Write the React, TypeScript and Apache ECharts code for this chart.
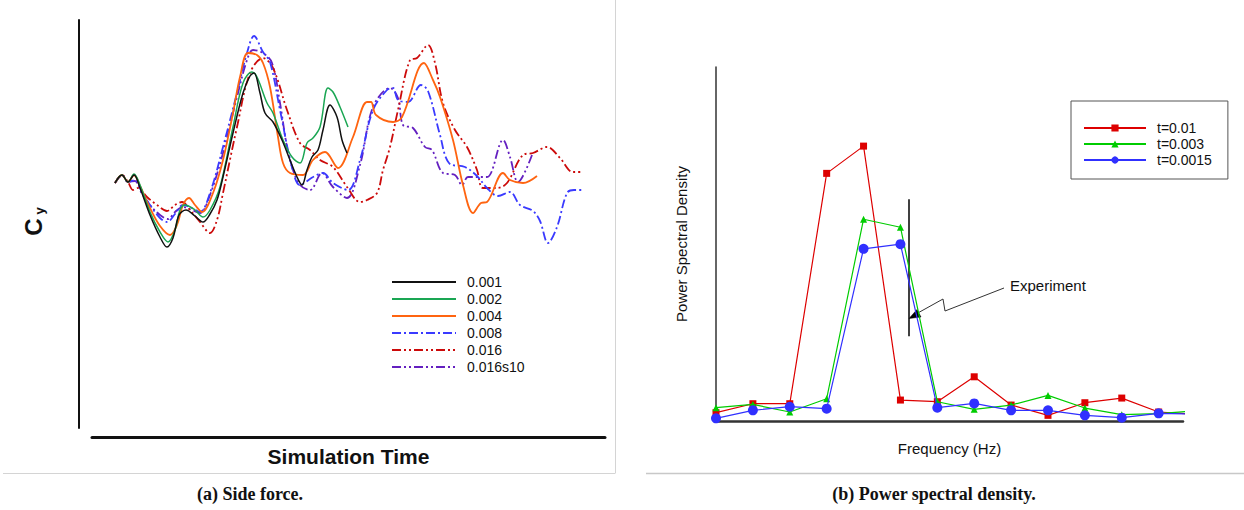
import React, { useEffect, useRef } from "react";
import * as echarts from "echarts";

// ---------- Panel (a): side force vs simulation time (arbitrary units) ----------
const cy001 = [[36,0],[43,8],[49,1],[55,8],[61,-5],[71,-32],[81,-54],[88,-64],[94,-55],[100,-32],[107,-27],[116,-33],[124,-39],[131,-31],[138,-17],[144,6],[154,50],[164,90],[171,107],[175,110],[181,90],[186,70],[194,61],[203,43],[211,23],[218,6],[223,-2],[228,13],[233,26],[239,33],[244,53],[251,78],[258,66],[263,43],[268,30]];
const cy002 = [[36,0],[43,8],[49,1],[55,9],[61,-2],[71,-29],[81,-49],[89,-59],[96,-47],[101,-27],[106,-22],[116,-27],[124,-34],[131,-27],[141,-4],[154,56],[164,100],[173,111],[178,106],[188,80],[194,70],[204,43],[213,26],[221,20],[228,40],[234,45],[241,56],[249,95],[254,91],[261,76],[269,56]];
const cy004 = [[36,0],[43,8],[49,1],[55,8],[61,-3],[71,-25],[81,-43],[91,-52],[98,-42],[104,-22],[110,-15],[116,-22],[123,-29],[134,-10],[144,23],[154,70],[161,106],[169,130],[178,128],[184,120],[191,96],[199,46],[204,20],[211,10],[224,8],[234,23],[246,31],[259,15],[274,46],[288,81],[292,81],[297,68],[314,61],[323,66],[345,120],[354,103],[361,86],[374,43],[384,-2],[394,-30],[402,-20],[408,-19],[424,10],[431,3],[444,0],[458,7]];
const cy008 = [[36,0],[43,8],[49,1],[56,3],[62,-7],[71,-22],[81,-35],[88,-39],[96,-31],[104,-22],[113,-25],[121,-29],[131,-10],[144,36],[158,90],[168,130],[175,147],[184,131],[191,121],[201,73],[213,16],[221,-2],[234,6],[244,10],[254,0],[269,-7],[281,23],[294,73],[308,93],[314,95],[319,83],[329,81],[342,98],[349,92],[361,48],[370,20],[386,16],[398,7],[408,-5],[419,-13],[431,-9],[441,-22],[454,-28],[461,-38],[469,-60],[478,-44],[488,-10],[495,-7],[503,-7]];
const cy016 = [[36,0],[43,8],[49,1],[54,-7],[59,-5],[68,-14],[78,-22],[88,-28],[96,-22],[103,-19],[111,-27],[121,-39],[131,-50],[138,-37],[144,-10],[158,56],[171,110],[184,125],[194,115],[208,73],[221,40],[231,33],[241,23],[254,16],[268,-4],[281,-19],[288,-17],[298,-10],[304,13],[311,36],[319,73],[331,123],[338,125],[349,138],[356,120],[364,80],[376,53],[388,36],[398,13],[404,-5],[418,-5],[428,0],[444,28],[454,30],[468,36],[481,25],[494,11],[503,11]];
const cy016s10 = [[36,0],[43,8],[49,1],[56,2],[62,-9],[71,-22],[81,-32],[89,-36],[96,-29],[104,-24],[113,-27],[121,-30],[131,-12],[144,30],[158,86],[168,123],[174,133],[184,130],[193,120],[201,80],[208,36],[214,13],[221,-2],[231,-7],[243,10],[254,-4],[268,-15],[281,18],[294,76],[311,95],[319,85],[324,58],[334,55],[346,36],[353,33],[364,10],[376,8],[383,-2],[389,6],[398,6],[408,6],[424,43],[431,26],[439,1],[453,28]];

const leftNames = ["0.001", "0.002", "0.004", "0.008", "0.016", "0.016s10"];

// ---------- Panel (b): power spectral density ----------
const freqIndex = [0, 1, 2, 3, 4, 5, 6, 7, 8, 9, 10, 11, 12, 13];
const psd0010 = [25, 52, 52, 745, 827, 63, 58, 133, 48, 17, 55, 69, 27, 20];
const psd0003 = [40, 50, 27, 67, 607, 583, 58, 35, 48, 77, 39, 19, 22, 31];
const psd00015 = [8, 32, 43, 37, 518, 532, 40, 53, 32, 32, 17, 10, 23, 21];
const rightNames = ["t=0.01", "t=0.003", "t=0.0015"];
const experimentFreq = 5.22;
const experimentRange = [255, 667];

const pair = (ys: number[]) => ys.map((v, i) => [freqIndex[i], v]);

const SANS = "'Liberation Sans', Arial, Helvetica, sans-serif";
const SERIF = "'Liberation Serif', 'DejaVu Serif', serif";

const hidden = { axisTick: { show: false }, axisLabel: { show: false }, splitLine: { show: false } };

export default function App() {
  const ref = useRef<HTMLDivElement>(null);
  useEffect(() => {
    const chart = echarts.init(ref.current!, null, { renderer: "svg" });
    const leftStyles = [
      { color: "#111111", width: 1.5, type: "solid" },
      { color: "#1aa653", width: 1.5, type: "solid" },
      { color: "#ff6410", width: 1.8, type: "solid" },
      { color: "#3a3aff", width: 1.8, type: [9, 3, 2, 3] },
      { color: "#cc0a0a", width: 1.8, type: [9, 3, 2, 3, 2, 3] },
      { color: "#6420c0", width: 1.8, type: [9, 3, 2, 3, 2, 3] },
    ];
    const leftData = [cy001, cy002, cy004, cy008, cy016, cy016s10];
    const leftSeries = leftData.map((d, i) => ({
      name: leftNames[i],
      type: "line",
      xAxisIndex: 0,
      yAxisIndex: 0,
      data: d,
      symbol: "none",
      showSymbol: false,
      smooth: 0.35,
      color: leftStyles[i].color,
      lineStyle: leftStyles[i],
      z: 6 - i,
    }));
    const rightSpecs = [
      { c: "#dd0000", s: "rect", sz: 7, d: psd0010 },
      { c: "#00cc00", s: "triangle", sz: 7, d: psd0003 },
      { c: "#3030ff", s: "circle", sz: 10, d: psd00015 },
    ];
    const rightSeries: any[] = rightSpecs.map((r, i) => ({
      name: rightNames[i],
      type: "line",
      xAxisIndex: 2,
      yAxisIndex: 2,
      data: pair(r.d),
      symbol: r.s,
      symbolSize: r.sz,
      showSymbol: true,
      clip: true,
      color: r.c,
      itemStyle: { color: r.c },
      lineStyle: { color: r.c, width: 1.2 },
      z: 5 + i,
    }));
    rightSeries[0].markLine = {
      silent: true,
      symbol: "none",
      label: { show: false },
      lineStyle: { color: "#000", width: 1.5, type: "solid" },
      data: [[{ coord: [experimentFreq, experimentRange[0]] }, { coord: [experimentFreq, experimentRange[1]] }]],
    };

    const option: any = {
      animation: false,
      backgroundColor: "#ffffff",
      grid: [
        { left: 79, top: 20, width: 526, height: 408 },
        { left: 92, top: 436, width: 513, height: 1 },
        { left: 716, top: 67, width: 467, height: 354 },
      ],
      xAxis: [
        { gridIndex: 0, type: "value", min: 0, max: 526, show: false },
        {
          gridIndex: 1, type: "value", min: 0, max: 1, ...hidden,
          axisLine: { show: true, onZero: false, lineStyle: { color: "#111", width: 3 } },
          name: "Simulation Time", nameLocation: "middle", nameGap: 9,
          nameTextStyle: { fontFamily: SANS, fontSize: 21, fontWeight: "bold", color: "#111", verticalAlign: "top" },
        },
        {
          gridIndex: 2, type: "value", min: 0, max: 12.66, ...hidden,
          axisLine: { show: true, onZero: false, lineStyle: { color: "#333", width: 2.5 } },
          name: "Frequency (Hz)", nameLocation: "middle", nameGap: 20,
          nameTextStyle: { fontFamily: SANS, fontSize: 15, color: "#111", verticalAlign: "top" },
        },
      ],
      yAxis: [
        {
          gridIndex: 0, type: "value", min: -245, max: 163, ...hidden,
          axisLine: { show: true, onZero: false, lineStyle: { color: "#111", width: 2 } },
        },
        { gridIndex: 1, type: "value", min: 0, max: 1, show: false },
        {
          gridIndex: 2, type: "value", min: 0, max: 1065, ...hidden,
          axisLine: { show: true, onZero: false, lineStyle: { color: "#333", width: 1.5 } },
          name: "Power Spectral Density", nameLocation: "middle", nameGap: 27, nameRotate: 90,
          nameTextStyle: { fontFamily: SANS, fontSize: 15, color: "#111" },
        },
      ],
      legend: [
        {
          data: leftNames,
          orient: "vertical",
          left: 391,
          top: 275,
          padding: 0,
          itemWidth: 64,
          itemHeight: 14,
          itemGap: 3,
          selectedMode: false,
          itemStyle: { opacity: 0 },
          textStyle: { fontFamily: SANS, fontSize: 14, color: "#111", padding: [0, 0, 0, 6] },
        },
        {
          data: rightNames,
          orient: "vertical",
          left: 1071,
          top: 101,
          padding: [20, 16, 12, 12],
          borderColor: "#555",
          borderWidth: 1,
          itemWidth: 62,
          itemHeight: 9,
          itemGap: 2,
          selectedMode: false,
          textStyle: { fontFamily: SANS, fontSize: 14, color: "#111", padding: [0, 0, 0, 6] },
        },
      ],
      series: [...leftSeries, ...rightSeries],
      graphic: [
        { type: "line", shape: { x1: 615.5, y1: 0, x2: 615.5, y2: 473 }, style: { stroke: "#d4d4d4", lineWidth: 1 } },
        { type: "line", shape: { x1: 3, y1: 473.5, x2: 615.5, y2: 473.5 }, style: { stroke: "#d4d4d4", lineWidth: 1 } },
        { type: "line", shape: { x1: 646, y1: 473.5, x2: 1244, y2: 473.5 }, style: { stroke: "#c8c8c8", lineWidth: 1.5 } },
        {
          type: "text", x: 33, y: 227, rotation: Math.PI / 2,
          style: { text: "C", font: `bold 24px ${SANS}`, fill: "#111", align: "center", verticalAlign: "middle" },
        },
        {
          type: "text", x: 39, y: 211, rotation: Math.PI / 2,
          style: { text: "y", font: `bold 13px ${SANS}`, fill: "#111", align: "center", verticalAlign: "middle" },
        },
        {
          type: "text", x: 250, y: 494,
          style: { text: "(a) Side force.", font: `bold 18px ${SERIF}`, fill: "#111", align: "center", verticalAlign: "middle" },
        },
        {
          type: "text", x: 934, y: 494,
          style: { text: "(b) Power spectral density.", font: `bold 18px ${SERIF}`, fill: "#111", align: "center", verticalAlign: "middle" },
        },
        {
          type: "text", x: 1010, y: 285,
          style: { text: "Experiment", font: `15px ${SANS}`, fill: "#111", align: "left", verticalAlign: "middle" },
        },
        {
          type: "polyline",
          shape: { points: [[1004, 288], [945, 311], [943, 299], [916, 314]] },
          style: { stroke: "#333", lineWidth: 1, fill: null },
        },
        {
          type: "polygon",
          shape: { points: [[909, 318.5], [917, 309.5], [921, 317]] },
          style: { fill: "#000", stroke: "#000", lineWidth: 0.5 },
        },
      ],
    };
    chart.setOption(option);
    return () => chart.dispose();
  }, []);
  return <div ref={ref} style={{ position: "fixed", left: 0, top: 0, width: 1244, height: 510 }} />;
}
